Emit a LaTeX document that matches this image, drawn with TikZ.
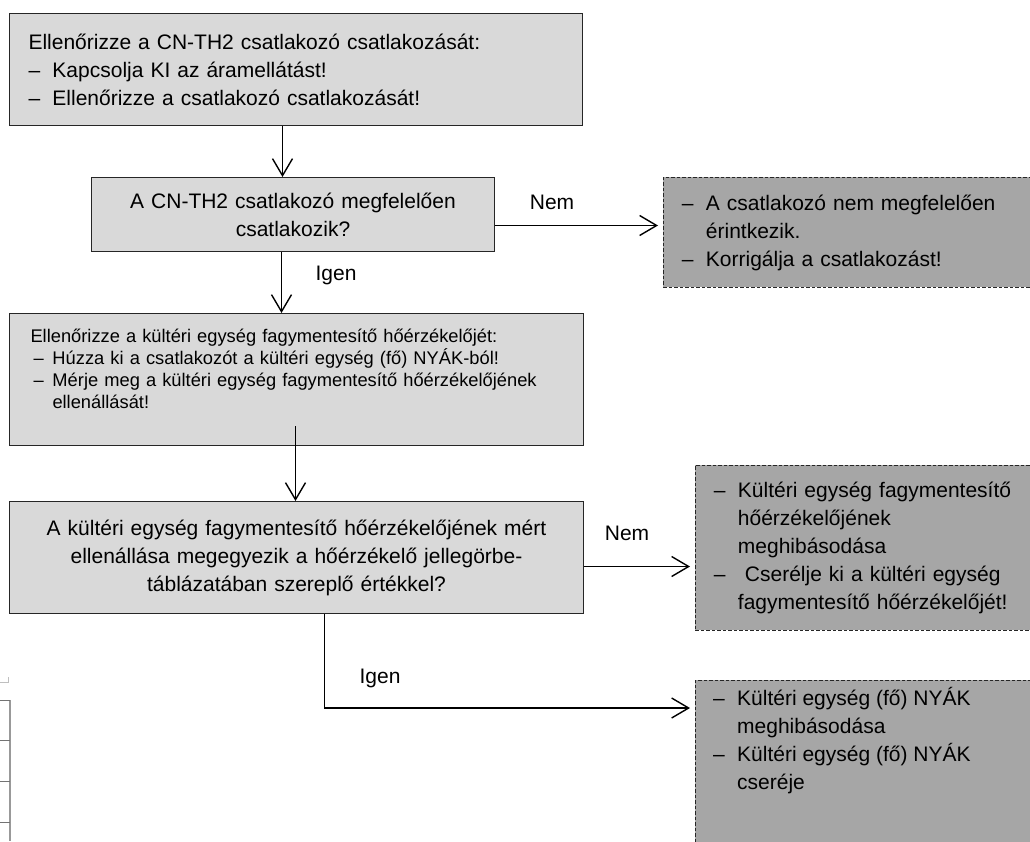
\documentclass[tikz,border=0pt]{standalone}
\usepackage{fontspec}
\setmainfont{Liberation Sans}
\usetikzlibrary{arrows.meta,positioning}
\definecolor{boxgray}{HTML}{D9D9D9}
\definecolor{notegray}{HTML}{A6A6A6}
\newcommand{\bigtxt}{\fontsize{21}{28}\selectfont}
\newcommand{\smtxt}{\fontsize{18.3}{22}\selectfont}
\newcommand{\dsh}[1][24pt]{\makebox[#1][l]{–}}
\newcommand{\ind}[1][24pt]{\hspace*{#1}}

\begin{document}
\begin{tikzpicture}[x=1pt,y=-1pt,
  chk/.style={draw=black!85,fill=boxgray,line width=1pt,inner xsep=19pt,inner ysep=0pt,anchor=north west,font=\bigtxt},
  res/.style={draw=black!85,fill=notegray,line width=0.9pt,dash pattern=on 3.5pt off 2pt,inner xsep=18.5pt,inner ysep=0pt,anchor=north west,font=\bigtxt},
  conn/.style={line width=1.4pt,-{Straight Barb[length=17pt,width=20pt]}},
  lbl/.style={font=\bigtxt,inner sep=0pt}]
\clip (0,0) rectangle (1030,841);
\fill[white] (0,0) rectangle (1030,841);
\node[chk,text width=535pt,minimum height=112pt,align=left] (chk1) at (9,13) {Ellenőrizze a CN-TH2 csatlakozó csatlakozását:\\ \dsh Kapcsolja KI az áramellátást!\\ \dsh Ellenőrizze a csatlakozó csatlakozását!};
\node[chk,text width=365pt,minimum height=74pt,align=center] (q1) at (91,177) {A CN-TH2 csatlakozó megfelelően\\ csatlakozik?};
\node[res,text width=340pt,minimum height=110pt,align=left] (res1) at (663,177) {\dsh A csatlakozó nem megfelelően\\ \ind érintkezik.\\ \dsh Korrigálja a csatlakozást!};
\node[chk,font=\smtxt,text width=532pt,minimum height=132pt,inner xsep=21pt,align=left] (chk2) at (9,313) {Ellenőrizze a kültéri egység fagymentesítő hőérzékelőjét:\\ \ind[3pt]\dsh[19pt]Húzza ki a csatlakozót a kültéri egység (fő) NYÁK-ból!\\ \ind[3pt]\dsh[19pt]Mérje meg a kültéri egység fagymentesítő hőérzékelőjének\\ \ind[22pt]ellenállását!\\ \mbox{}};
\node[chk,text width=536pt,minimum height=112pt,align=center] (q2) at (9,501) {A kültéri egység fagymentesítő hőérzékelőjének mért\\ ellenállása megegyezik a hőérzékelő jellegörbe-\\ táblázatában szereplő értékkel?};
\node[res,text width=320pt,minimum height=165pt,align=left] (res2) at (695,465) {\dsh Kültéri egység fagymentesítő\\ \ind hőérzékelőjének\\ \ind meghibásodása\\ \dsh\ Cserélje ki a kültéri egység\\ \ind fagymentesítő hőérzékelőjét!};
\node[res,minimum width=358pt,minimum height=220pt] (res3) at (695,680) {};
\node[font=\bigtxt,inner sep=0pt,anchor=north west,align=left] (res3txt) at ([xshift=18pt,yshift=-5.4pt]res3.north west) {\strut\dsh Kültéri egység (fő) NYÁK\\ \ind meghibásodása\\ \dsh Kültéri egység (fő) NYÁK\\ \ind cseréje};
\node[lbl] (nem1) at (552,202) {Nem};
\node[lbl] (igen1) at (336,275) {Igen};
\node[lbl] (nem2) at (627,533) {Nem};
\node[lbl] (igen2) at (380,678) {Igen};
\draw[conn] ([xshift=-13.5pt]chk1.south) -- ([xshift=-13.5pt]chk1.south |- q1.north);
\draw[conn,shorten >=5pt] ([yshift=-11pt]q1.east) -- ([yshift=-11pt]q1.east -| res1.west);
\draw[conn] ([xshift=-11.5pt]q1.south) -- ([xshift=-11.5pt]q1.south |- chk2.north);
\draw[conn] ([xshift=-1pt,yshift=20pt]chk2.south) -- ([xshift=-1pt]chk2.south |- q2.north);
\draw[conn,shorten >=5pt] ([yshift=-9pt]q2.east) -- ([yshift=-9pt]q2.east -| res2.west);
\draw[conn,shorten >=5pt] ([xshift=28pt]q2.south) |- ([yshift=-28pt]res3.north west);
\draw[black!40,line width=1.5pt] (10,700) -- (10,841);
\foreach \ty in {700,740,781,822} \draw[black!55,line width=1pt] (0,\ty) -- (10,\ty);
\draw[black!25,line width=1pt] (0,682) -- (8,682) -- (8,677);
\end{tikzpicture}
\end{document}
